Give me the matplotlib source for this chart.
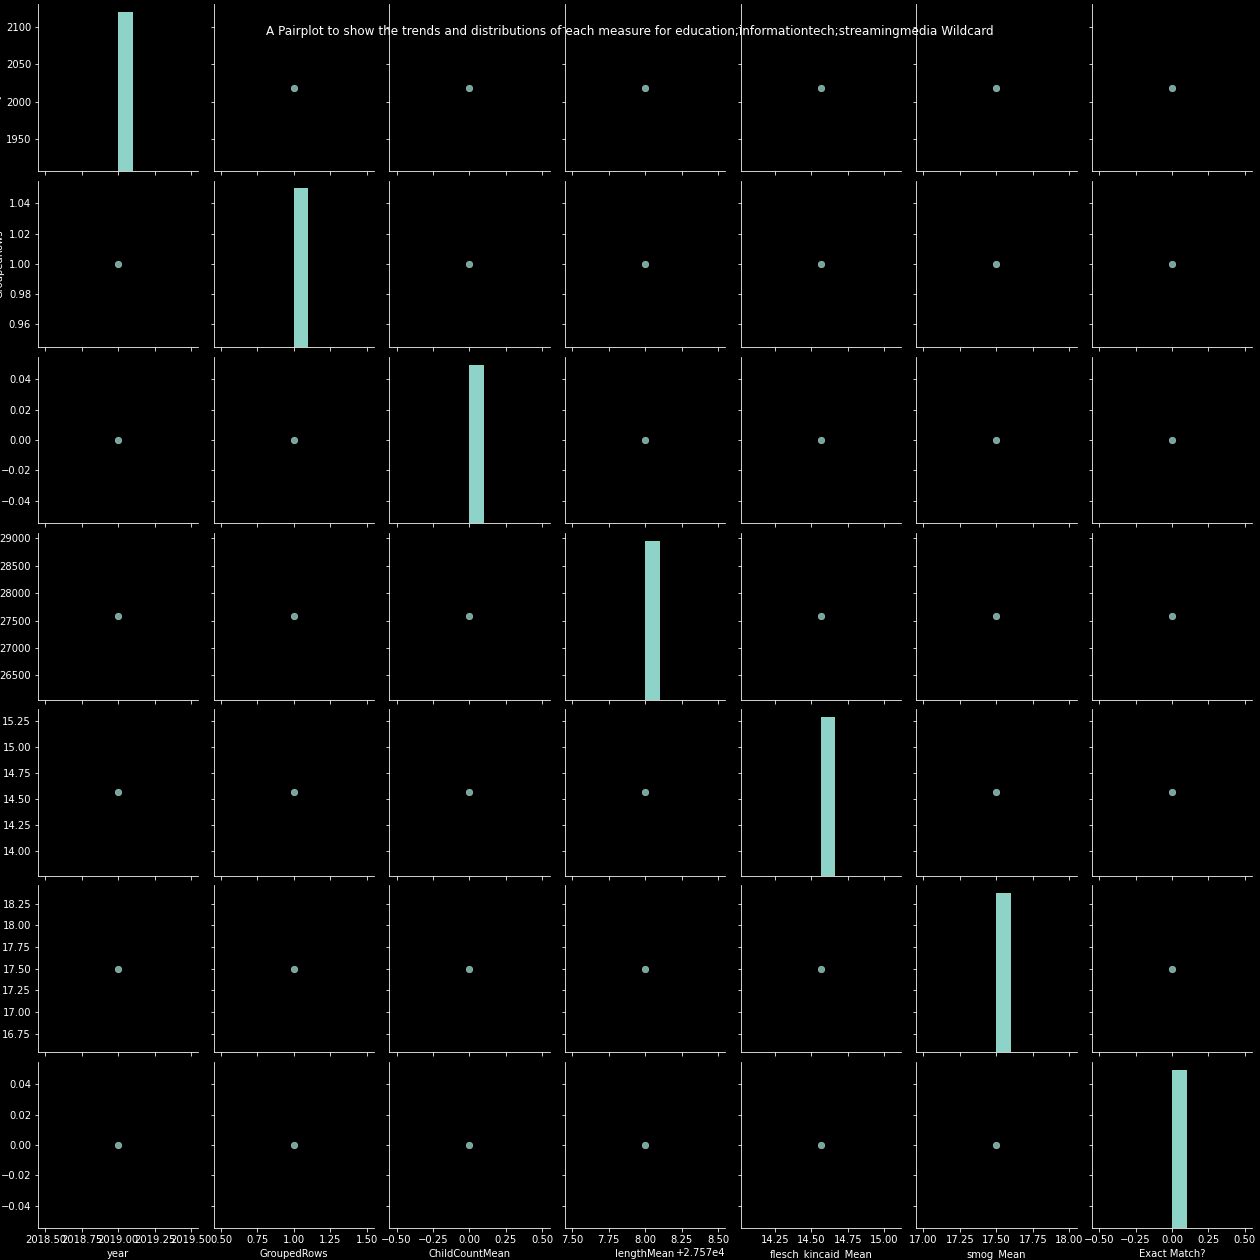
import matplotlib
matplotlib.use("Agg")
import matplotlib.pyplot as plt
import numpy as np

plt.style.use("dark_background")

variables = ["year", "GroupedRows", "ChildCountMean", "lengthMean",
             "flesch_kincaid_Mean", "smog_Mean", "Exact Match?"]
values = [2019, 1, 0, 27578, 14.565, 17.5, 0]
title = ("A Pairplot to show the trends and distributions of each measure "
         "for education;informationtech;streamingmedia Wildcard")

color = "#8dd3c7"
n = len(variables)

fig, axes = plt.subplots(n, n, figsize=(17.5, 17.5), dpi=72,
                         sharex="col", sharey="row")
fig.subplots_adjust(left=0.0302, right=0.9938, bottom=0.0252, top=0.9966,
                    wspace=0.095, hspace=0.058)

for i in range(n):
    for j in range(n):
        ax = axes[i, j]
        for s in ("top", "right"):
            ax.spines[s].set_visible(False)
        if i == j:
            tax = ax.twinx()
            tax.hist([values[i]], bins=10, color=color)
            tax.yaxis.set_visible(False)
            for s in tax.spines.values():
                s.set_visible(False)
        else:
            ax.scatter([values[j]], [values[i]], s=44, color=color,
                       alpha=0.8, edgecolor="w", linewidth=0.4)
        if j == 0:
            ax.set_ylabel(variables[i])
        if i == n - 1:
            ax.set_xlabel(variables[j])

fig.suptitle(title)
fig.savefig("out.png", dpi=72)
